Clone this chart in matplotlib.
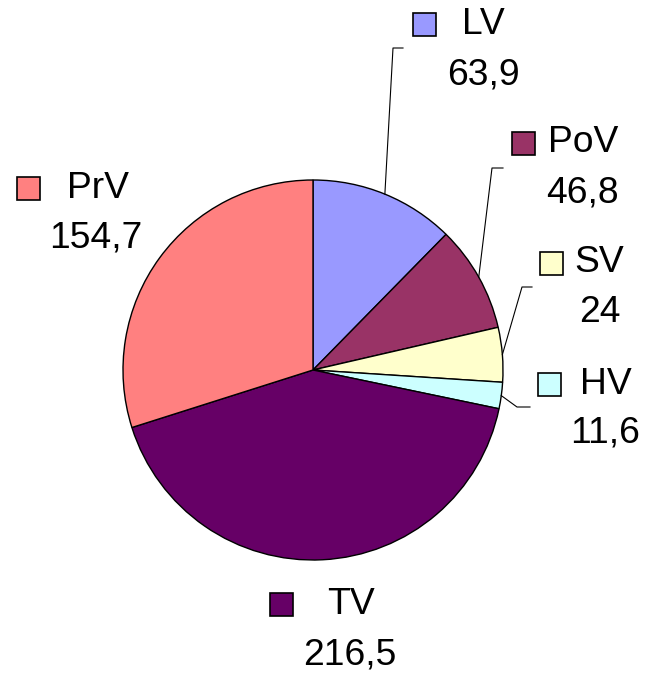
import numpy as np
import matplotlib
matplotlib.use("Agg")
import matplotlib.pyplot as plt
from matplotlib.patches import Rectangle

labels = ["LV", "PoV", "SV", "HV", "TV", "PrV"]
values = [63.9, 46.8, 24, 11.6, 216.5, 154.7]
value_text = ["63,9", "46,8", "24", "11,6", "216,5", "154,7"]
colors = ["#9999FF", "#993366", "#FFFFCC", "#CCFFFF", "#660066", "#FF8080"]

W, H = 648, 674
fig = plt.figure(figsize=(W / 100, H / 100), dpi=100)
ax = fig.add_axes([0, 0, 1, 1])

def Y(y):
    return H - y

cx, cy, R = 313, 370, 190
ax.pie(values, colors=colors, startangle=90, counterclock=False,
       center=(cx, Y(cy)), radius=R, frame=True,
       wedgeprops=dict(edgecolor="black", linewidth=1.0))
ax.set_xlim(0, W)
ax.set_ylim(0, H)
ax.axis("off")

# label layout: (square_x, name_x, name_y, value_cx, value_y, elbow points)
layout = {
    "LV":  (413, 462, 24, 483, 75, [(393, 48), (403, 48)]),
    "PoV": (512, 548, 143, 582, 193, [(492, 168), (503, 168)]),
    "SV":  (540, 574, 263, 600, 313, [(522, 287), (532, 287)]),
    "HV":  (538, 580, 384, 605, 433, [(517, 407), (530, 407)]),
    "TV":  (270, 327, 604, 350, 655, None),
    "PrV": (17, 67, 188, 96, 238, None),
}

total = sum(values)
ang = 90.0
fp = dict(family="Liberation Sans", size=26.8)
for lab, v, vt, col in zip(labels, values, value_text, colors):
    span = v / total * 360
    mid = np.deg2rad(ang - span / 2)
    ang -= span
    sx, nx, ny, vx, vy, elbow = layout[lab]
    s = 23
    ax.add_patch(Rectangle((sx, Y(ny) - s / 2), s, s, facecolor=col,
                           edgecolor="black", linewidth=1.2, zorder=5))
    ax.text(nx, Y(ny), lab, ha="left", va="center", **fp)
    ax.text(vx, Y(vy), vt, ha="center", va="center", **fp)
    if elbow:
        px = cx + R * np.cos(mid)
        py = Y(cy) + R * np.sin(mid)
        xs = [px] + [e[0] for e in elbow]
        ys = [py] + [Y(e[1]) for e in elbow]
        ax.plot(xs, ys, color="black", linewidth=0.8)

fig.savefig("out.png", dpi=100, facecolor="white")
